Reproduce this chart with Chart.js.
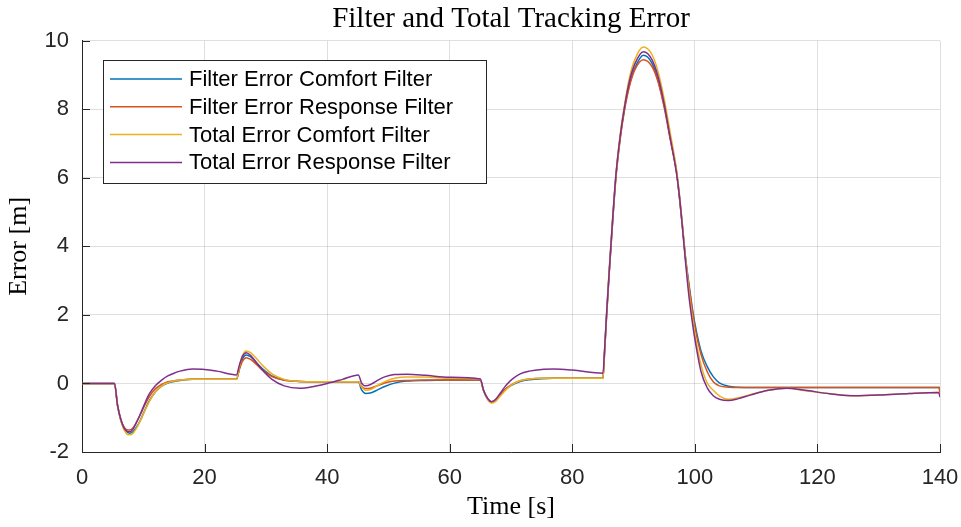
<!DOCTYPE html>
<html>
<head>
<meta charset="utf-8">
<script src="https://cdn.jsdelivr.net/npm/chart.js@4.4.1/dist/chart.umd.min.js"></script>
<style>
  html, body { margin: 0; padding: 0; background: #fff; }
</style>
</head>
<body>
<canvas id="myChart" width="961" height="527"></canvas>
<script>
// time samples [s]
var time = [
  0, 5.3, 5.8, 6.3, 6.8, 7.3, 7.8, 8.3, 8.8, 9.5,
  10.2, 11, 12, 13, 14, 15, 16, 18, 20, 22,
  25.2, 25.7, 26.2, 26.8, 27.5, 28.5, 29.5, 31, 33, 35.5,
  38, 40, 42.5, 45.1, 45.6, 46.3, 47.2, 48.3, 49.5, 51,
  53, 56, 60, 65, 65.5, 66.2, 66.8, 67.5, 68.3, 69.2,
  70.3, 71.5, 73, 75, 77, 80, 85, 85.3, 85.6, 86,
  86.5, 87.1, 87.8, 88.5, 89.3, 90.2, 91.6, 93, 94, 95,
  96, 97, 97.5, 98, 98.5, 99, 99.5, 100, 101, 102,
  103, 104, 105.5, 107, 109, 112, 115, 118, 122, 126,
  130, 135, 139.8, 140
];

var filterErrComfort = [
  0, 0, -0.65, -1.05, -1.28, -1.41, -1.45, -1.41, -1.3, -1.08,
  -0.8, -0.5, -0.24, -0.08, 0.01, 0.06, 0.09, 0.12, 0.12, 0.12,
  0.12, 0.45, 0.72, 0.83, 0.78, 0.6, 0.42, 0.22, 0.1, 0.06,
  0.05, 0.05, 0.05, 0.05, -0.18, -0.29, -0.27, -0.18, -0.08, 0.01,
  0.07, 0.09, 0.1, 0.1, -0.2, -0.46, -0.54, -0.5, -0.3, -0.15,
  -0.03, 0.06, 0.11, 0.14, 0.15, 0.15, 0.15, 1.0, 2.0, 3.17,
  4.5, 6.0, 7.15, 8.0, 8.7, 9.2, 9.58, 9.35, 8.85, 8.1,
  7.15, 6.2, 5.4, 4.55, 3.65, 2.95, 2.3, 1.75, 0.95, 0.5,
  0.2, 0.02, -0.08, -0.11, -0.12, -0.12, -0.12, -0.12, -0.12, -0.12,
  -0.12, -0.12, -0.12, -0.12
];

var filterErrResponse = [
  0, 0, -0.63, -1.02, -1.25, -1.35, -1.36, -1.3, -1.16, -0.92,
  -0.65, -0.38, -0.15, -0.03, 0.05, 0.08, 0.1, 0.12, 0.12, 0.12,
  0.12, 0.42, 0.65, 0.75, 0.7, 0.55, 0.38, 0.2, 0.09, 0.06,
  0.05, 0.05, 0.05, 0.05, -0.08, -0.15, -0.13, -0.06, 0.02, 0.07,
  0.09, 0.1, 0.1, 0.1, -0.2, -0.45, -0.53, -0.48, -0.32, -0.15,
  -0.01, 0.08, 0.13, 0.15, 0.15, 0.15, 0.15, 1.0, 1.95, 3.15,
  4.5, 5.95, 7.1, 7.95, 8.65, 9.15, 9.45, 9.25, 8.8, 8.05,
  7.1, 6.15, 5.4, 4.5, 3.6, 2.9, 2.25, 1.65, 0.85, 0.35,
  0.05, -0.07, -0.11, -0.12, -0.12, -0.12, -0.12, -0.12, -0.12, -0.12,
  -0.12, -0.12, -0.12, -0.27
];

var totalErrComfort = [
  0, 0, -0.65, -1.06, -1.33, -1.47, -1.5, -1.46, -1.33, -1.1,
  -0.82, -0.52, -0.24, -0.07, 0.02, 0.07, 0.1, 0.12, 0.12, 0.12,
  0.12, 0.5, 0.82, 0.95, 0.9, 0.72, 0.52, 0.28, 0.12, 0.06,
  0.05, 0.05, 0.05, 0.05, -0.1, -0.2, -0.17, -0.05, 0.06, 0.15,
  0.19, 0.19, 0.15, 0.12, -0.2, -0.47, -0.57, -0.52, -0.36, -0.18,
  -0.02, 0.08, 0.13, 0.15, 0.15, 0.15, 0.15, 1.05, 2.05, 3.25,
  4.6, 6.05, 7.25, 8.1, 8.9, 9.45, 9.82, 9.6, 9.1, 8.3,
  7.3, 6.25, 5.5, 4.6, 3.6, 2.75, 2.05, 1.45, 0.55, 0.02,
  -0.2, -0.36, -0.46, -0.42, -0.33, -0.2, -0.14, -0.21, -0.3, -0.36,
  -0.34, -0.29, -0.26, -0.26
];

var totalErrResponse = [
  0, 0, -0.64, -1.03, -1.28, -1.39, -1.41, -1.34, -1.17, -0.9,
  -0.6, -0.3, -0.06, 0.1, 0.22, 0.3, 0.36, 0.42, 0.41, 0.36,
  0.25, 0.55, 0.8, 0.9, 0.82, 0.6, 0.38, 0.12, -0.07, -0.14,
  -0.08, 0.0, 0.12, 0.25, 0.02, -0.07, -0.02, 0.1, 0.2, 0.26,
  0.27, 0.24, 0.18, 0.13, -0.18, -0.44, -0.53, -0.46, -0.27, -0.05,
  0.14, 0.28, 0.36, 0.41, 0.42, 0.39, 0.3, 1.1, 2.05, 3.2,
  4.58, 6.05, 7.2, 8.05, 8.8, 9.32, 9.68, 9.45, 8.95, 8.15,
  7.15, 6.15, 5.45, 4.5, 3.5, 2.6, 1.9, 1.3, 0.35, -0.12,
  -0.36, -0.46, -0.5, -0.45, -0.34, -0.2, -0.14, -0.2, -0.3, -0.36,
  -0.34, -0.29, -0.26, -0.4
];

var seriesNames = ['Filter Error Comfort Filter', 'Filter Error Response Filter',
                   'Total Error Comfort Filter', 'Total Error Response Filter'];
var seriesColors = ['#0072BD', '#D95319', '#EDB120', '#7E2F8E'];
var xTicks = [0, 20, 40, 60, 80, 100, 120, 140];
var yTicks = [-2, 0, 2, 4, 6, 8, 10];

var axisColor = '#262626';
var gridColor = 'rgba(38,38,38,0.15)';
var sansFont = '"Liberation Sans", Arial, Helvetica, sans-serif';
var serifFont = '"Liberation Serif", "Times New Roman", serif';

function toPoints(values) {
  return time.map(function(t, i) { return {x: t, y: values[i]}; });
}

var allSeries = [filterErrComfort, filterErrResponse, totalErrComfort, totalErrResponse];
var datasets = allSeries.map(function(values, i) {
  return {
    label: seriesNames[i],
    data: toPoints(values),
    borderColor: seriesColors[i],
    backgroundColor: seriesColors[i],
    borderWidth: 1.5,
    pointRadius: 0,
    fill: false,
    cubicInterpolationMode: 'monotone',
    order: 4 - i   // last series on top, like the original plot
  };
});

// MATLAB style ticks pointing into the axes
var innerTicks = {
  id: 'innerTicks',
  afterDraw: function(chart) {
    var ctx = chart.ctx, a = chart.chartArea;
    var xs = chart.scales.x, ys = chart.scales.y;
    ctx.save();
    ctx.strokeStyle = axisColor;
    ctx.lineWidth = 1;
    ctx.beginPath();
    xTicks.forEach(function(v) {
      var px = Math.round(xs.getPixelForValue(v)) + 0.5;
      ctx.moveTo(px, a.bottom);
      ctx.lineTo(px, a.bottom - 8);
    });
    yTicks.forEach(function(v) {
      var py = Math.round(ys.getPixelForValue(v)) + 0.5;
      ctx.moveTo(a.left, py);
      ctx.lineTo(a.left + 8, py);
    });
    ctx.stroke();
    ctx.restore();
  }
};

// boxed legend inside the plot, top left
var boxLegend = {
  id: 'boxLegend',
  afterDatasetsDraw: function(chart) {
    var ctx = chart.ctx, a = chart.chartArea;
    var x = Math.round(a.left + 21), y = Math.round(a.top + 19), w = 383, h = 123;
    ctx.save();
    ctx.fillStyle = '#fff';
    ctx.fillRect(x, y, w, h);
    ctx.strokeStyle = axisColor;
    ctx.lineWidth = 1;
    ctx.strokeRect(x + 0.5, y + 0.5, w, h);
    ctx.font = '22px ' + sansFont;
    ctx.textBaseline = 'middle';
    seriesNames.forEach(function(name, i) {
      var ry = y + 19 + i * 27.8;
      ctx.strokeStyle = seriesColors[i];
      ctx.lineWidth = 1.5;
      ctx.beginPath();
      ctx.moveTo(x + 7, ry);
      ctx.lineTo(x + 79, ry);
      ctx.stroke();
      ctx.fillStyle = '#000';
      ctx.fillText(name, x + 86, ry + 1);
    });
    ctx.restore();
  }
};

var ctx = document.getElementById('myChart').getContext('2d');
var myChart = new Chart(ctx, {
  type: 'line',
  data: { datasets: datasets },
  options: {
    responsive: false,
    animation: false,
    layout: { padding: { left: 0, right: 21, top: 0, bottom: 0 } },
    plugins: {
      legend: { display: false },
      tooltip: { enabled: false },
      title: {
        display: true,
        fullSize: false,
        text: 'Filter and Total Tracking Error',
        color: '#000',
        font: { family: serifFont, size: 29, weight: 'normal' },
        padding: { top: 2, bottom: 4 }
      }
    },
    scales: {
      x: {
        type: 'linear',
        min: 0,
        max: 140,
        afterBuildTicks: function(s) { s.ticks = xTicks.map(function(v) { return {value: v}; }); },
        afterFit: function(s) { s.height = 75; s.paddingRight = 0; s.paddingLeft = 0; },
        grid: { color: gridColor, drawTicks: false },
        border: { color: axisColor, width: 1 },
        ticks: { color: axisColor, padding: 13, maxRotation: 0, font: { family: sansFont, size: 22 } },
        title: {
          display: true,
          text: 'Time [s]',
          color: '#000',
          font: { family: serifFont, size: 26 },
          padding: { top: 0, bottom: 4 }
        }
      },
      y: {
        type: 'linear',
        min: -2,
        max: 10,
        afterBuildTicks: function(s) { s.ticks = yTicks.map(function(v) { return {value: v}; }); },
        afterFit: function(s) { s.width = 82; },
        grid: { color: gridColor, drawTicks: false },
        border: { color: axisColor, width: 1 },
        ticks: { color: axisColor, padding: 13, font: { family: sansFont, size: 22 } },
        title: {
          display: true,
          text: 'Error [m]',
          color: '#000',
          font: { family: serifFont, size: 26 },
          padding: { top: 4, bottom: 0 }
        }
      }
    }
  },
  plugins: [boxLegend, innerTicks]
});
</script>
</body>
</html>
